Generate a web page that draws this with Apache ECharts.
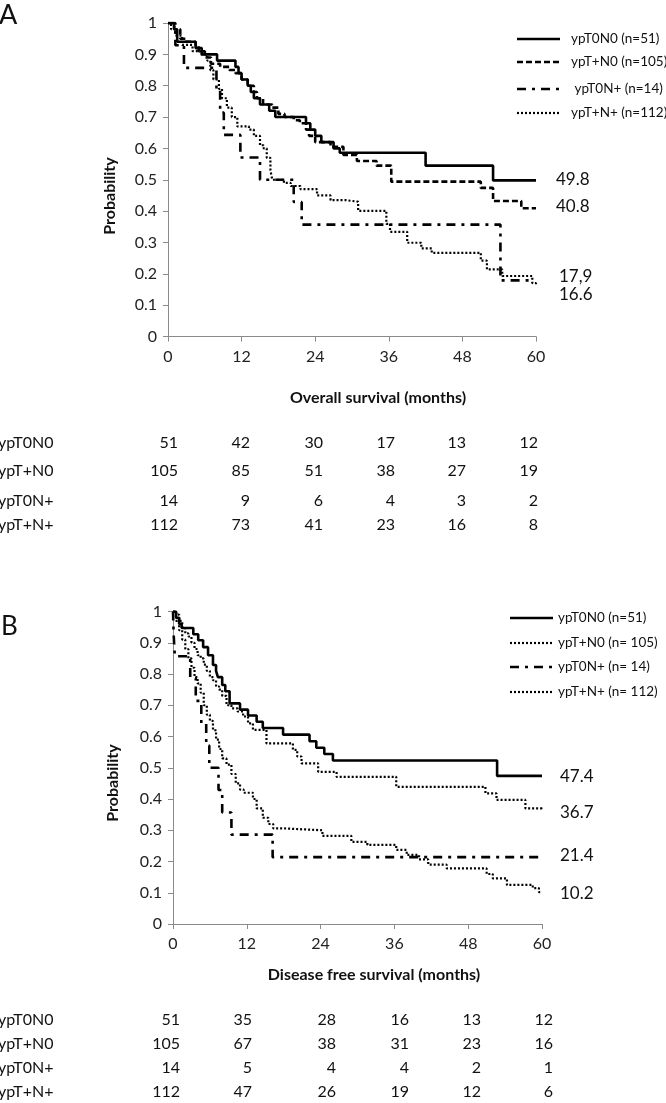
<!DOCTYPE html>
<html><head><meta charset="utf-8">
<script src="https://cdn.jsdelivr.net/npm/echarts@6/dist/echarts.min.js"></script>
<style>html,body{margin:0;padding:0;background:#fff}#c{width:666px;height:1103px}</style>
</head><body><div id="c"></div>
<script>
// ---------- DATA ----------
var monthTicks = [0, 12, 24, 36, 48, 60];
var groupNames = ['ypT0N0', 'ypT+N0', 'ypT0N+', 'ypT+N+'];
var legendA = ['ypT0N0 (n=51)', 'ypT+N0 (n=105)', ' ypT0N+ (n=14)', 'ypT+N+ (n=112)'];
var legendB = ['ypT0N0 (n=51)', 'ypT+N0 (n= 105)', 'ypT0N+ (n= 14)', 'ypT+N+ (n= 112)'];
var endLabelsA = ['49.8', '40.8', '17,9', '16.6'];
var endLabelsB = ['47.4', '36.7', '21.4', '10.2'];

// Overall survival (panel A): [month, probability]
var osT0N0 = [[0,1],[1,0.98],[1.5,0.94],[4.5,0.92],[5.5,0.90],[8,0.88],[11,0.86],[11.5,0.84],[12,0.82],[13,0.80],[13.5,0.78],[14,0.76],[15,0.74],[16.5,0.72],[17.5,0.70],[22.5,0.68],[23.2,0.66],[24,0.64],[25,0.62],[27,0.60],[28,0.586],[42,0.545],[53,0.498],[60,0.498]];
var osTN0 = [[0,1],[1,0.98],[2,0.95],[3,0.94],[4.5,0.93],[5,0.91],[6,0.89],[7,0.87],[8.5,0.86],[10,0.85],[11,0.84],[12,0.82],[13,0.80],[14,0.78],[14.5,0.76],[15.5,0.74],[17,0.73],[18,0.71],[19,0.70],[20.5,0.69],[21.5,0.68],[22.5,0.66],[23,0.64],[24,0.62],[26.5,0.605],[28.6,0.579],[30.8,0.56],[34,0.545],[36.4,0.494],[51,0.474],[53,0.432],[57.6,0.409],[60,0.409]];
var osT0Np = [[0,1],[1.2,0.929],[2.6,0.857],[7.9,0.786],[8.5,0.714],[9.1,0.643],[11.8,0.571],[15,0.5],[20.5,0.429],[21.8,0.357],[54.2,0.179],[59,0.179]];
var osTNp = [[0,1],[0.5,0.98],[1.2,0.96],[2.3,0.93],[4,0.91],[5.3,0.90],[6.4,0.88],[6.9,0.85],[7.4,0.82],[8.3,0.79],[8.8,0.76],[9.6,0.73],[10.4,0.70],[11.3,0.67],[13.2,0.66],[14,0.64],[15,0.61],[15.6,0.60],[16.1,0.57],[16.7,0.53],[17,0.50],[18.9,0.49],[20,0.48],[21.6,0.47],[24.3,0.45],[26.5,0.435],[28.9,0.43],[31,0.401],[35.6,0.359],[36.2,0.334],[39,0.299],[41.3,0.281],[43,0.267],[51,0.242],[52,0.214],[54.5,0.193],[59.4,0.17],[60,0.166]];

// Disease free survival (panel B)
var dfsT0N0 = [[0,1],[0.5,0.98],[1,0.96],[1.4,0.947],[3.3,0.927],[4.1,0.908],[4.9,0.886],[5.7,0.86],[6.5,0.829],[7,0.81],[7.3,0.79],[8,0.765],[8.5,0.745],[9.2,0.706],[10.9,0.686],[12.2,0.667],[13.6,0.647],[14.6,0.627],[17.9,0.606],[22.2,0.585],[23.3,0.564],[24.6,0.544],[26,0.523],[52.7,0.474],[60,0.474]];
var dfsTN0 = [[0,1],[0.5,0.99],[1,0.97],[1.5,0.95],[2,0.93],[2.5,0.92],[3,0.90],[3.5,0.88],[4,0.86],[4.5,0.85],[5,0.83],[5.5,0.81],[6,0.79],[6.5,0.78],[7,0.76],[7.5,0.75],[8,0.73],[8.7,0.70],[9.5,0.69],[10.5,0.68],[11.4,0.664],[12.2,0.642],[13,0.621],[15.2,0.578],[19.5,0.557],[20.2,0.536],[20.9,0.514],[23.6,0.487],[26.6,0.471],[36.3,0.439],[50.8,0.418],[52.6,0.397],[57.3,0.37],[60,0.367]];
var dfsT0Np = [[0,1],[0.1,0.929],[0.3,0.857],[2.8,0.786],[3.7,0.714],[4.6,0.643],[5.4,0.571],[5.9,0.5],[7.4,0.429],[8,0.357],[9.5,0.286],[16.2,0.214],[60,0.214]];
var dfsTNp = [[0,1],[0.5,0.97],[1,0.94],[1.5,0.91],[2,0.88],[2.5,0.85],[3,0.82],[3.5,0.79],[4,0.77],[4.5,0.74],[5,0.70],[5.5,0.67],[6,0.65],[6.5,0.62],[7,0.59],[7.5,0.56],[8,0.53],[8.7,0.51],[9.5,0.48],[10.2,0.45],[10.9,0.43],[11.5,0.42],[13,0.40],[13.6,0.37],[14.6,0.34],[15.5,0.32],[16.3,0.306],[17.9,0.30],[24.3,0.282],[29,0.263],[31.6,0.253],[36.3,0.237],[38,0.221],[40,0.207],[41.5,0.19],[44.5,0.178],[51,0.16],[52,0.146],[54.3,0.125],[58.5,0.115],[59.5,0.102],[60,0.102]];

// Numbers at risk
var riskA = [[51,42,30,17,13,12],[105,85,51,38,27,19],[14,9,6,4,3,2],[112,73,41,23,16,8]];
var riskB = [[51,35,28,16,13,12],[105,67,38,31,23,16],[14,5,4,4,2,1],[112,47,26,19,12,6]];

// ---------- STYLE ----------
var FONT = 'Lato, "Open Sans", sans-serif';
var styleSolid = {color:'#000', width:2.6, type:'solid'};
var styleDash = {color:'#000', width:2.6, type:[6,3]};
var styleDashDot = {color:'#000', width:2.6, type:[9,6,3,6]};
var styleDot = {color:'#000', width:2.2, type:[2,2]};
var stylesA = [styleSolid, styleDash, styleDashDot, styleDot];
var stylesB = [styleSolid, styleDot, styleDashDot, styleDot];

var chart = echarts.init(document.getElementById('c'), null, {renderer:'canvas'});

function xAx(gi){
  return {gridIndex:gi, type:'value', min:0, max:60, interval:12,
    axisLine:{show:true, lineStyle:{color:'#8a8a8a', width:1}},
    axisTick:{show:true, length:5, lineStyle:{color:'#8a8a8a'}},
    axisLabel:{color:'#222', fontFamily:FONT, fontSize:16, margin:12},
    splitLine:{show:false}};
}
function yAx(gi){
  return {gridIndex:gi, type:'value', min:0, max:1, interval:0.1,
    axisLine:{show:true, lineStyle:{color:'#8a8a8a', width:1}},
    axisTick:{show:true, length:5, lineStyle:{color:'#8a8a8a'}},
    axisLabel:{color:'#222', fontFamily:FONT, fontSize:16, margin:11},
    splitLine:{show:false}};
}
function ser(data, st, gi){
  return {type:'line', step:'end', data:data, xAxisIndex:gi, yAxisIndex:gi,
    showSymbol:false, symbol:'none', lineStyle:st, silent:true, z:3};
}

var g = [];
function txt(x, y, s, font, align, vAlign, rot){
  var o = {type:'text', x:x, y:y, silent:true, style:{text:s, font:font, fill:'#111',
    textAlign:align||'left', textVerticalAlign:vAlign||'middle'}};
  if (rot) o.rotation = rot;
  g.push(o);
}
function lineSeg(x1,y1,x2,y2,st){
  var dash = Array.isArray(st.type) ? st.type : null;
  g.push({type:'line', silent:true, shape:{x1:x1,y1:y1,x2:x2,y2:y2},
    style:{stroke:'#000', lineWidth:st.width, lineDash:dash}});
}

// panel letters
txt(-1, 15, 'A', '27px ' + FONT, 'left', 'middle');
txt(1, 627, 'B', '26px ' + FONT, 'left', 'middle');
// axis titles
txt(110, 196, 'Probability', 'bold 16px ' + FONT, 'center', 'middle', Math.PI/2);
txt(113, 783, 'Probability', 'bold 16px ' + FONT, 'center', 'middle', Math.PI/2);
txt(378, 398, 'Overall survival (months)', 'bold 16px ' + FONT, 'center', 'middle');
txt(374, 975, 'Disease free survival (months)', 'bold 16px ' + FONT, 'center', 'middle');

// legends
var legAY = [39, 62, 89, 113];
for (var i = 0; i < 4; i++) {
  lineSeg(517, legAY[i], 560, legAY[i], stylesA[i]);
  txt(571, legAY[i], legendA[i], '13.5px ' + FONT, 'left', 'middle');
}
var legBY = [618, 643, 667, 692];
for (var i = 0; i < 4; i++) {
  lineSeg(510, legBY[i], 553, legBY[i], stylesB[i]);
  txt(558, legBY[i], legendB[i], '13.5px ' + FONT, 'left', 'middle');
}

// end labels
var endAY = [180, 207, 277, 295], endAX = [556, 556, 559, 559];
for (var i = 0; i < 4; i++) txt(endAX[i], endAY[i], endLabelsA[i], '17px ' + FONT, 'left', 'middle');
var endBY = [777, 813, 856, 894];
for (var i = 0; i < 4; i++) txt(560, endBY[i], endLabelsB[i], '17px ' + FONT, 'left', 'middle');

// risk tables
var rowAY = [443, 471, 501, 525], colAX = [178, 250, 323, 395, 466, 538];
var rowBY = [1020, 1044, 1068, 1092], colBX = [180, 252, 336, 409, 481, 553];
for (var r = 0; r < 4; r++) {
  txt(-2, rowAY[r], groupNames[r], '16px ' + FONT, 'left', 'middle');
  txt(-2, rowBY[r], groupNames[r], '16px ' + FONT, 'left', 'middle');
  for (var c = 0; c < 6; c++) {
    txt(colAX[c], rowAY[r], String(riskA[r][c]), '16px ' + FONT, 'right', 'middle');
    txt(colBX[c], rowBY[r], String(riskB[r][c]), '16px ' + FONT, 'right', 'middle');
  }
}

chart.setOption({
  animation:false,
  backgroundColor:'#fff',
  grid:[{left:168, top:23, width:368, height:313.5},
        {left:173, top:611.5, width:369, height:312.5}],
  xAxis:[xAx(0), xAx(1)],
  yAxis:[yAx(0), yAx(1)],
  series:[
    ser(osT0N0, stylesA[0], 0), ser(osTN0, stylesA[1], 0), ser(osT0Np, stylesA[2], 0), ser(osTNp, stylesA[3], 0),
    ser(dfsT0N0, stylesB[0], 1), ser(dfsTN0, stylesB[1], 1), ser(dfsT0Np, stylesB[2], 1), ser(dfsTNp, stylesB[3], 1)
  ],
  graphic:{elements:g}
});
</script></body></html>
